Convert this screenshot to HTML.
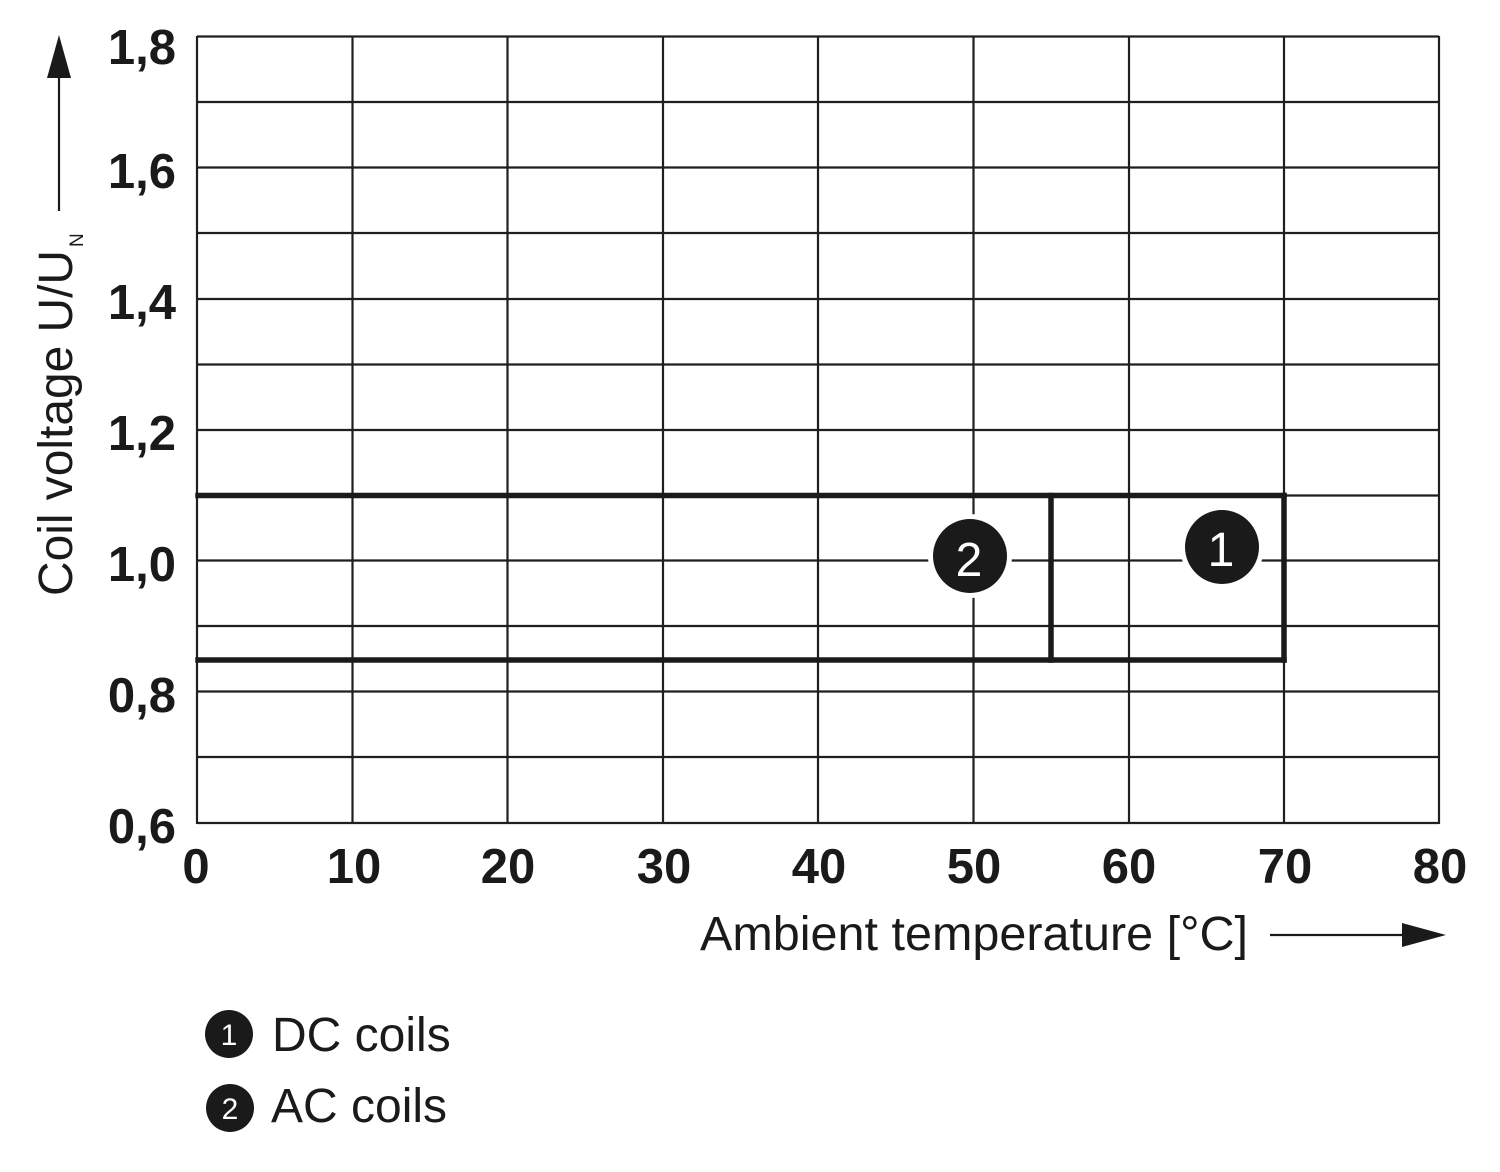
<!DOCTYPE html>
<html>
<head>
<meta charset="utf-8">
<style>
html,body{margin:0;padding:0;background:#fff;}
svg{display:block;}
text{font-family:"Liberation Sans",Arial,sans-serif;fill:#1a1a1a;}
.tk{font-weight:bold;font-size:49px;}
.lab{font-size:48px;}
</style>
</head>
<body>
<svg width="1500" height="1172" viewBox="0 0 1500 1172" xmlns="http://www.w3.org/2000/svg">
<rect x="0" y="0" width="1500" height="1172" fill="#fff"/>
<!-- grid -->
<g stroke="#1f1f1f" stroke-width="2.2" fill="none">
  <line x1="197" y1="36.5" x2="1439" y2="36.5"/>
  <line x1="197" y1="102" x2="1439" y2="102"/>
  <line x1="197" y1="167.5" x2="1439" y2="167.5"/>
  <line x1="197" y1="233" x2="1439" y2="233"/>
  <line x1="197" y1="299" x2="1439" y2="299"/>
  <line x1="197" y1="364.5" x2="1439" y2="364.5"/>
  <line x1="197" y1="430" x2="1439" y2="430"/>
  <line x1="197" y1="495.5" x2="1439" y2="495.5"/>
  <line x1="197" y1="560.5" x2="1439" y2="560.5"/>
  <line x1="197" y1="626" x2="1439" y2="626"/>
  <line x1="197" y1="691.5" x2="1439" y2="691.5"/>
  <line x1="197" y1="757" x2="1439" y2="757"/>
  <line x1="197" y1="823" x2="1439" y2="823"/>
  <line x1="197" y1="36" x2="197" y2="824"/>
  <line x1="352.5" y1="36" x2="352.5" y2="824"/>
  <line x1="507.5" y1="36" x2="507.5" y2="824"/>
  <line x1="663" y1="36" x2="663" y2="824"/>
  <line x1="818" y1="36" x2="818" y2="824"/>
  <line x1="973.5" y1="36" x2="973.5" y2="824"/>
  <line x1="1129" y1="36" x2="1129" y2="824"/>
  <line x1="1284" y1="36" x2="1284" y2="824"/>
  <line x1="1439" y1="36" x2="1439" y2="824"/>
</g>
<!-- rectangles -->
<g stroke="#1a1a1a" stroke-width="5.5" fill="none" stroke-linecap="square">
  <line x1="198" y1="495.5" x2="1284" y2="495.5"/>
  <line x1="198" y1="660" x2="1284" y2="660"/>
  <line x1="1051" y1="495.5" x2="1051" y2="660"/>
  <line x1="1284" y1="495.5" x2="1284" y2="660"/>
</g>
<!-- markers -->
<circle cx="970" cy="556" r="42" fill="#fff"/>
<circle cx="970" cy="556" r="37" fill="#1a1a1a"/>
<text x="969" y="576" text-anchor="middle" font-size="48" style="fill:#fff">2</text>
<circle cx="1222" cy="547" r="42" fill="#fff"/>
<circle cx="1222" cy="547" r="37" fill="#1a1a1a"/>
<text x="1221" y="566" text-anchor="middle" font-size="48" style="fill:#fff">1</text>
<!-- y tick labels -->
<g class="tk" text-anchor="end">
  <text x="176" y="64">1,8</text>
  <text x="176" y="188">1,6</text>
  <text x="176" y="319">1,4</text>
  <text x="176" y="450">1,2</text>
  <text x="176" y="581">1,0</text>
  <text x="176" y="712">0,8</text>
  <text x="176" y="843">0,6</text>
</g>
<!-- x tick labels -->
<g class="tk" text-anchor="middle">
  <text x="196" y="883">0</text>
  <text x="354" y="883">10</text>
  <text x="508" y="883">20</text>
  <text x="664" y="883">30</text>
  <text x="819" y="883">40</text>
  <text x="974" y="883">50</text>
  <text x="1129" y="883">60</text>
  <text x="1285" y="883">70</text>
  <text x="1440" y="883">80</text>
</g>
<!-- x axis label -->
<text class="lab" x="700" y="950" textLength="548" lengthAdjust="spacingAndGlyphs">Ambient temperature [°C]</text>
<line x1="1270" y1="935" x2="1405" y2="935" stroke="#1a1a1a" stroke-width="2.2"/>
<polygon points="1402,923 1446,935 1402,947" fill="#1a1a1a"/>
<!-- y axis label -->
<text class="lab" transform="translate(72,596) rotate(-90)" textLength="346" lengthAdjust="spacingAndGlyphs">Coil voltage U/U</text>
<text transform="translate(83,247) rotate(-90)" font-size="19">N</text>
<line x1="59" y1="211" x2="59" y2="75" stroke="#1a1a1a" stroke-width="2.2"/>
<polygon points="47,78 59,35 71,78" fill="#1a1a1a"/>
<!-- legend -->
<circle cx="229" cy="1034" r="24" fill="#1a1a1a"/>
<text x="229" y="1045" text-anchor="middle" font-size="30" style="fill:#fff">1</text>
<text class="lab" x="272" y="1051">DC coils</text>
<circle cx="230" cy="1108" r="24" fill="#1a1a1a"/>
<text x="230" y="1119" text-anchor="middle" font-size="30" style="fill:#fff">2</text>
<text class="lab" x="271" y="1122">AC coils</text>
</svg>
</body>
</html>
